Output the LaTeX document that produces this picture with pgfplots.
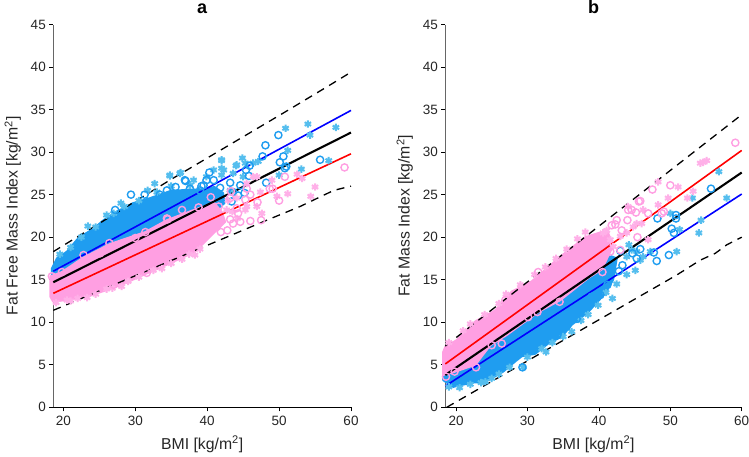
\documentclass[border=0pt]{standalone}
\usepackage{pgfplots}
\usepackage{fontspec}
\setmainfont{Liberation Sans}
\pgfplotsset{compat=1.18}
\definecolor{bluepts}{HTML}{1F9DF0}
\definecolor{bluestar}{HTML}{55BEEE}
\definecolor{pinkpts}{HTML}{FF9FE2}
\definecolor{pinkstar}{HTML}{FFB0E8}
\definecolor{axgray}{HTML}{666666}
\pgfplotsset{
 panel/.style={
  scale only axis, height=382.8pt, ymin=0, ymax=45, xmax=60,
  axis x line*=bottom, axis y line*=left,
  x axis line style={-, black, line width=0.8pt},
  y axis line style={-, axgray, line width=1.1pt},
  xtick={20,30,40,50,60}, ytick={0,5,...,45},
  tick align=outside, major tick length=4pt,
  tick style={black, line width=0.7pt},
  /pgf/number format/assume math mode=true,
  ticklabel style={font=\fontsize{13.5}{15}\selectfont, text=black!85},
  x tick label style={yshift=-1pt},
  label style={font=\fontsize{15.8}{18}\selectfont, text=black!85},
  xlabel={BMI [kg/m\textsuperscript{2}]},
  xlabel shift=4pt, ylabel shift=3pt,
  title style={font=\fontsize{18}{20}\selectfont\bfseries, at={(0.5,1)}, anchor=base, yshift=5.5pt},
  clip=false,
 },
 bluearea/.style={fill=bluepts, draw=bluepts, line width=2pt, line join=round},
 pinkarea/.style={fill=pinkpts, draw=pinkpts, line width=2pt, line join=round},
 cb/.style={only marks, mark=o, mark size=3.6pt, mark options={draw=bluepts, line width=1.4pt}},
 cp/.style={only marks, mark=o, mark size=3.6pt, mark options={draw=pinkpts, line width=1.4pt}},
 sb/.style={only marks, mark=asterisk, mark size=3.7pt, mark options={draw=bluestar, line width=2pt}},
 sp/.style={only marks, mark=asterisk, mark size=3.7pt, mark options={draw=pinkstar, line width=2pt}},
 fit/.style={no marks, line width=1.6pt},
 dash/.style={no marks, black, line width=1.3pt, dash pattern=on 8pt off 6pt},
}
\begin{document}
\begin{tikzpicture}[x=1pt,y=1pt]
\path[use as bounding box] (0,0) rectangle (749,456);

\begin{axis}[panel, name=a, at={(53.3pt,48.7pt)}, width=297.7pt, xmin=18.6,
  title={a}, ylabel={Fat Free Mass Index [kg/m\textsuperscript{2}]}]
 % dense part of the clouds
 \addplot[bluearea] coordinates {(18.4,15.0)(18.4,16.3)(19.1,17.5)(20.5,18.3)(22.1,19.9)(24.2,21.0)(25.6,22.0)
   (27.4,23.0)(29.7,24.0)(32.1,24.6)(34.8,25.4)(37.6,25.6)(39.5,25.6)(41.0,25.9)(42.2,25.2)(42.4,24.0)(39.5,22.0)(30,18)} --cycle;
 \addplot[sb] coordinates {(50.9,32.8)(54.0,33.3)(54.3,32.0)(57.9,32.9)(51.2,30.2)(56.9,29.0)(53.1,28.0)(50.0,27.3)
   (42.0,29.0)(44.9,29.3)(44.0,28.4)(45.3,28.7)(40.9,27.9)(34.8,27.2)(36.3,27.6)(32.7,26.3)(31.7,25.5)(38.1,26.7)
   (39.9,27.1)(42.3,27.9)(43.6,27.5)(46.4,28.7)(45.0,27.1)(23.4,21.3)(26.0,22.6)(36.2,27.5)(42.0,28.1)(42,29.1)
   (44.1,28.5)(47.1,28.9)(42.0,27.3)(37.6,26.1)(43.2,25.5)(34.8,27.3)
   (19.5,18)(21,18.8)(22.5,20)(24.5,21.2)(27,22.8)(28.5,23.6)(30.5,24.3)(33,25.3)(35,26)(28,24)};
 \addplot[cb] coordinates {(49.9,32.0)(48.1,30.8)(47.7,29.5)(50.6,29.5)(50.1,28.8)(55.7,29.1)(51.0,28.3)(50.8,28.1)
   (45.9,28.4)(45.4,27.9)(45.8,27.2)(48.2,26.4)(40.3,27.6)(40.9,26.7)(37.0,26.6)(29.4,25.0)(27.2,23.2)(31.3,25.0)
   (35.6,25.9)(41.8,25.8)(43.2,26.4)(44.6,26.1)(39.0,25.5)(34.4,25.5)(33.4,25.0)(39.9,26.7)(39.5,26.1)(37.6,25.7)
   (43.6,25.3)(36.9,26.7)(39.2,26.0)(44.3,24.9)(43.4,24.2)(45.2,25.2)};
 \addplot[pinkarea] coordinates {(18.2,15.4)(19.8,15.9)(22.8,17.6)(26.5,19.2)(31.4,20.6)(34.4,22.0)(38.8,23.4)(41.0,24.0)(42.0,23.0)
   (42.5,21.8)(40.8,20.4)(38.3,18.3)(33.7,16.5)(31.6,15.75)(28.1,14.4)(23.3,13.0)(18.6,12.4)(18.2,13.0)} --cycle;
 \addplot[sp] coordinates {(52.5,27.4)(53.2,26.9)(55.0,25.9)(54.4,24.8)(51.2,25.1)(49.0,26.7)(46.9,27.1)(47.4,25.3)
   (49.7,24.8)(45.5,26.3)(47.6,22.8)(46.9,23.6)(45.3,23.2)(33.7,16.3)(38.3,17.9)(28.1,14.2)(26.8,14.0)(23.3,12.9)(21.0,12.5)
   (46.4,27.1)(44.1,24.6)(45.5,23.6)(42.7,23.2)(43.5,23.0)(44.2,22.2)(42.9,24.3)
   (19,12.3)(20.5,12.6)(22,12.8)(24.5,13.3)(26,13.9)(29,14.8)(30.5,15.3)(32.5,16.1)(35,16.9)(36.5,17.4)(37.5,18)(39,18.6)};
 \addplot[cp] coordinates {(59.1,28.2)(50.8,27.1)(50.0,24.3)(47.5,22.0)(48.7,25.7)(49.1,25.7)(43.3,25.4)(43.2,24.6)
   (40.5,24.7)(47.0,24.1)(46.0,25.0)(46.0,21.9)(44.6,21.8)(43.2,22.1)(38.8,23.5)(41.6,23.6)(34.5,22.1)
   (43.6,21.6)(41.3,21.2)(44.1,23.4)(45.3,24.4)(36.5,23.2)
   (31.6,15.8)(34.4,22.2)(31.4,20.6)(30.0,19.9)(26.4,19.3)(22.8,17.9)(25.1,18.1)(19.8,15.9)(27.0,14.4)(18.4,15.4)
   (45.5,25.7)(44.3,22.8)(42.8,20.8)(41.9,20.6)};
 % fits and limits
 \addplot[fit, blue] coordinates {(18.6,16.0)(60,34.9)};
 \addplot[fit, red] coordinates {(18.6,13.4)(60,29.8)};
 \addplot[fit, black, line width=2.1pt] coordinates {(18.6,14.7)(60,32.3)};
 \addplot[dash] coordinates {(18.6,18.3)(34.8,26.7)(45,31.8)(50.6,34.6)(57.1,37.9)(60,39.4)};
 \addplot[dash] coordinates {(18.6,11.4)(48.3,22.0)(52.9,23.6)(57.6,25.5)(60,26.0)};
\end{axis}

\begin{axis}[panel, name=b, at={(445.3pt,48.7pt)}, width=296.4pt, xmin=18.5,
  title={b}, ylabel={Fat Mass Index [kg/m\textsuperscript{2}]}]
 \addplot[bluearea] coordinates {(18.2,3.2)(19.6,2.4)(22.2,2.9)(24.1,3.0)(26.6,4.2)(28.3,5.4)(29.2,6.0)(31.1,6.3)(32.9,7.5)
   (34.8,8.3)(36.2,9.7)(38.5,11.2)(40.9,13.4)(42.0,15.0)(42.5,17.5)(41.0,18.0)(30,11)(18.2,5.0)} --cycle;
 \addplot[sb] coordinates {(56.8,27.7)(57.9,24.6)(53.1,24.6)(50.0,22.8)(51.3,20.9)(54.3,22.0)(54.0,20.5)(50.9,18.3)
   (44.2,19.1)(45.8,17.3)(43.9,15.6)(45.1,16.1)(47.2,18.3)(46.2,17.7)(45.3,18.3)(39.9,12.0)(41.9,12.8)
   (32.6,6.5)(36.2,8.9)(29.4,4.7)(24.1,3.0)(42.5,14.5)(43.9,17.7)(44.6,18.5)
   (19,2.4)(20.5,2.3)(22,2.7)(23.5,2.9)(25,3.4)(26,3.9)(27.5,4.7)(30,5.9)(32,6.9)(33.5,7.6)(35,8.3)(37.5,10.2)(38.5,10.9)(41,13.5)};
 \addplot[cb] coordinates {(55.7,25.7)(48.2,22.2)(50.8,22.6)(50.8,22.2)(50.2,21.0)(50.5,20.5)(47.7,18.2)(49.8,17.9)
   (48.1,17.2)(45.8,18.6)(44.7,18.1)(43.3,16.7)(45.3,17.5)(43.0,18.4)
   (29.3,4.7)(35.5,9.5)(36.9,10.4)(34.2,8.5)(40.2,13.2)(39.0,13.0)(42.8,16)(41.2,14.4)};
 \addplot[pinkarea] coordinates {(18.2,6.5)(18.5,7.1)(20.1,7.9)(22.7,10.1)(25.5,11.4)(27.8,13.6)(30.6,14.8)(34.6,17.7)(38.1,20.0)
   (40.0,20.5)(41.3,20.5)(42.0,19.0)(40.4,16.2)(38.5,15.2)(34.6,12.6)(31.5,11.2)(27.1,8.5)(24.8,7.3)(22.7,5.0)(19.9,4.2)(18.2,3.8)} --cycle;
 \addplot[sp] coordinates {(54.6,28.8)(54.2,28.7)(55.1,29.0)(48.3,26.5)(51.1,25.9)(53.2,25.4)(52.4,24.6)(49.7,24.6)
   (48.3,23.8)(46.2,23.2)(44.1,23.6)(38.1,20.6)(46.9,19.7)(41.1,20.8)(40.6,20.5)(46.0,21.6)(43.0,20.1)(44.8,21.2)
   (19,7.6)(21,9)(22,9.8)(24,10.9)(26,12.2)(27,13.3)(29,14.4)(31,15.6)(32.5,16.5)(34,17.5)(35.5,18.6)(37,19.8)
   (41.6,19.7)(42,18.9)(43.9,20.5)(45.3,21.6)};
 \addplot[cp] coordinates {(59.1,31.1)(47.5,25.6)(50.0,26.1)(45.8,24.25)(45.6,24.2)(45.2,22.9)(44.1,23.2)(44.6,23.2)
   (44.0,22.0)(42.5,22.0)(42.3,21.5)(41.8,21.4)(46.9,22.8)(48.8,22.8)(49.1,23.0)(45.4,20.0)
   (43.2,20.8)(43.0,18.5)(41.6,18.3)(22.8,4.7)(25.0,7.3)(26.4,7.5)
   (18.6,3.6)(19.8,4.2)(31.5,15.9)(34.5,12.4)(31.4,11.2)(30.1,10.6)(26.9,12.6)(40.5,15.9)};
 \addplot[fit, red] coordinates {(18.5,5.1)(60,30.2)};
 \addplot[fit, blue] coordinates {(18.5,2.5)(60,25.07)};
 \addplot[fit, black, line width=2.1pt] coordinates {(18.5,3.8)(60,27.6)};
 \addplot[dash] coordinates {(18.5,7.2)(60,34.4)};
 \addplot[dash] coordinates {(18.7,0)(50.9,15.55)(54.2,17.3)(56.3,18.1)(57.9,19.1)(60,20.0)};
\end{axis}
\end{tikzpicture}
\end{document}
